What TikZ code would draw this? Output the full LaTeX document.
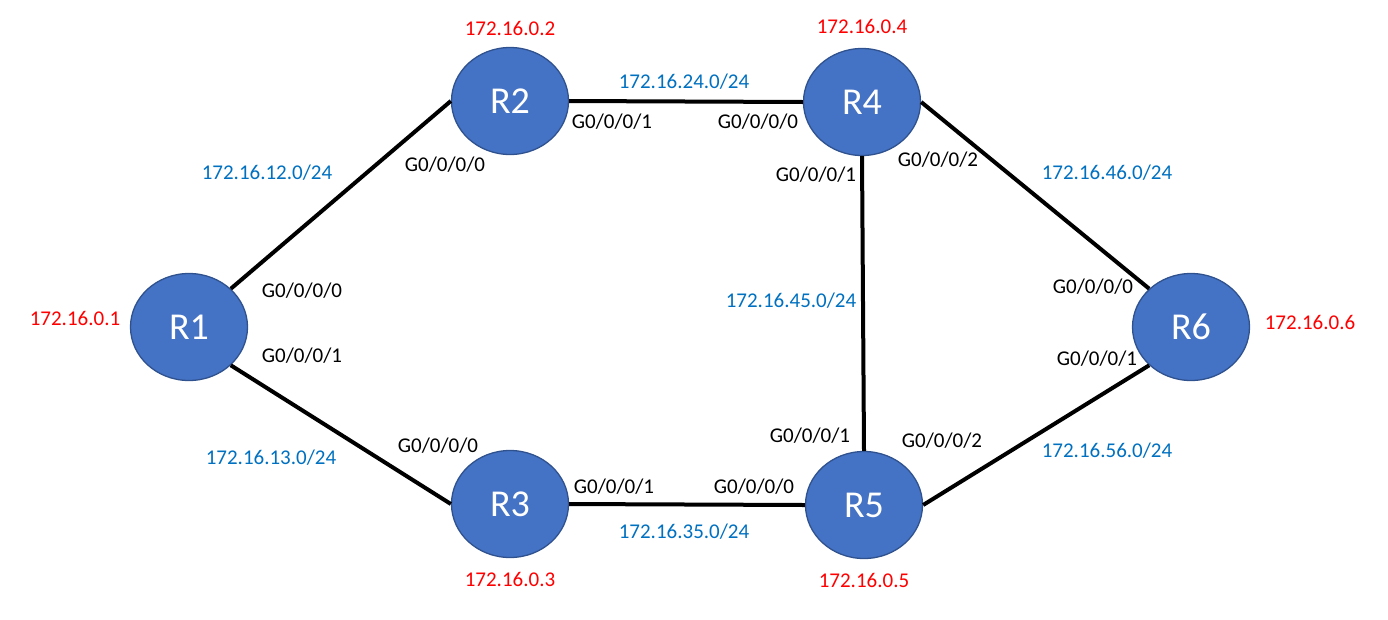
\documentclass[tikz,border=0pt]{standalone}
\usepackage{fontspec}
\setmainfont{Carlito}
\usetikzlibrary{shapes.geometric}
\definecolor{rfill}{HTML}{4472C4}
\definecolor{rdraw}{HTML}{2F528F}
\definecolor{netblue}{HTML}{0070C0}
\definecolor{ipred}{HTML}{FF0000}
\tikzset{
  router/.style={ellipse, fill=rfill, draw=rdraw, line width=1.3pt, minimum width=117pt, minimum height=107pt, inner sep=0pt, text=white, font=\fontsize{38}{44}\selectfont},
  link/.style={line width=4pt, black},
  ifl/.style={font=\fontsize{21}{25}\selectfont, text=black, inner sep=0pt},
  netl/.style={font=\fontsize{21}{25}\selectfont, text=netblue, inner sep=0pt},
  ipl/.style={font=\fontsize{21}{25}\selectfont, text=ipred, inner sep=0pt}
}
\begin{document}
\begin{tikzpicture}[x=1pt,y=-1pt]
\useasboundingbox (0,0) rectangle (1388,619);
\node[router] (R1) at (189,327) {R1};
\node[router] (R2) at (510,101) {R2};
\node[router] (R4) at (862,102) {R4};
\node[router] (R3) at (510,504) {R3};
\node[router] (R5) at (864,505) {R5};
\node[router] (R6) at (1191,327) {R6};
\draw[link] (R1.north east) -- (R2.west);
\draw[link] (R1.south east) -- (R3.west);
\draw[link] (R2.east) -- (R4.west);
\draw[link] (R3.east) -- (R5.west);
\draw[link] (R4.south) -- (R5.north);
\draw[link] (R4.east) -- (R6.north west);
\draw[link] (R5.east) -- (R6.south west);
% IP addresses
\node[ipl] (ip1) at (75,318) {172.16.0.1};
\node[ipl] (ip2) at (510,28) {172.16.0.2};
\node[ipl] (ip4) at (862,26) {172.16.0.4};
\node[ipl] (ip3) at (510,579) {172.16.0.3};
\node[ipl] (ip5) at (864,580) {172.16.0.5};
\node[ipl] (ip6) at (1310,322) {172.16.0.6};
% networks
\node[netl] (n12) at (267,173) {172.16.12.0/24};
\node[netl] (n24) at (684,82) {172.16.24.0/24};
\node[netl] (n46) at (1107,173) {172.16.46.0/24};
\node[netl] (n45) at (791,301) {172.16.45.0/24};
\node[netl] (n13) at (271,458) {172.16.13.0/24};
\node[netl] (n35) at (684,532) {172.16.35.0/24};
\node[netl] (n56) at (1107,451) {172.16.56.0/24};
% interfaces
\node[ifl] (i1a) at (302,291) {G0/0/0/0};
\node[ifl] (i1b) at (302,356) {G0/0/0/1};
\node[ifl] (i2a) at (445,165) {G0/0/0/0};
\node[ifl] (i2b) at (612,122) {G0/0/0/1};
\node[ifl] (i4a) at (758,122) {G0/0/0/0};
\node[ifl] (i4b) at (816,175) {G0/0/0/1};
\node[ifl] (i4c) at (938,160) {G0/0/0/2};
\node[ifl] (i3a) at (438,446) {G0/0/0/0};
\node[ifl] (i3b) at (614,487) {G0/0/0/1};
\node[ifl] (i5a) at (754,487) {G0/0/0/0};
\node[ifl] (i5b) at (810,436) {G0/0/0/1};
\node[ifl] (i5c) at (942,441) {G0/0/0/2};
\node[ifl] (i6a) at (1093,287) {G0/0/0/0};
\node[ifl] (i6b) at (1097,359) {G0/0/0/1};
\end{tikzpicture}
\end{document}
